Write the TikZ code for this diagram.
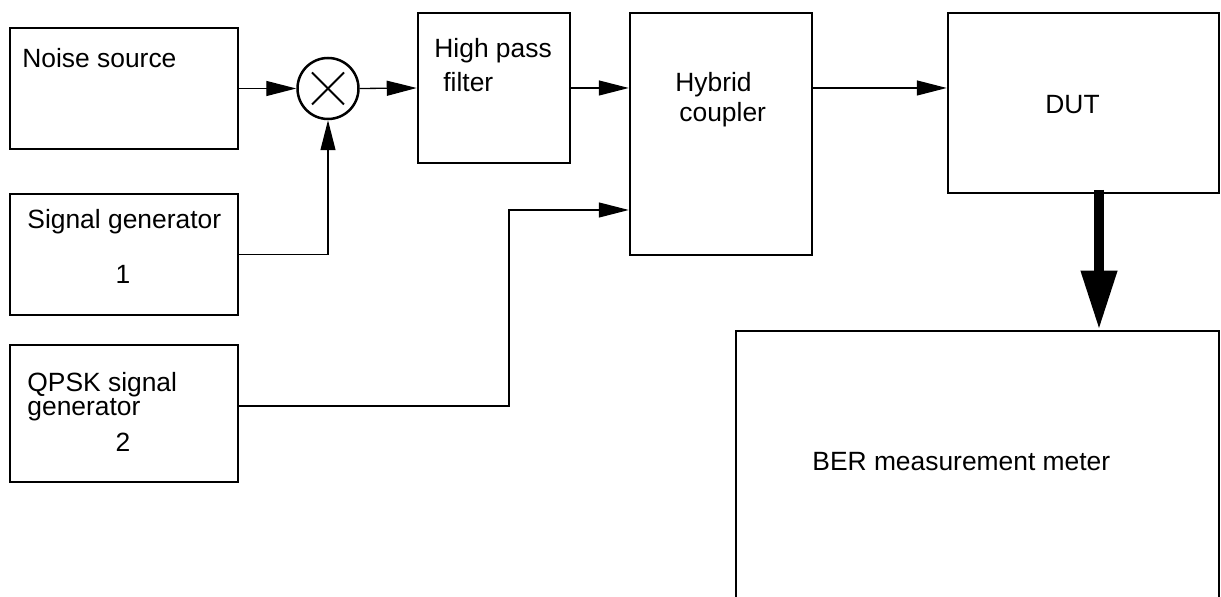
\documentclass[tikz,border=0pt]{standalone}
\usepackage{fontspec}
\setmainfont{Liberation Sans}
\usetikzlibrary{arrows.meta, positioning}
\tikzset{
  every picture/.style={font=\fontsize{13.2pt}{15pt}\selectfont},
  blk/.style={draw, line width=1.25pt, inner sep=0pt},
  mixer/.style={circle, draw, line width=1.25pt, minimum size=30.5pt, inner sep=0pt},
  txt/.style={anchor=base west, inner sep=0pt},
  sig/.style={-{Triangle[length=15pt, width=7.5pt]}, line width=0.65pt},
  bigarrow/.style={-{Triangle[length=29.5pt, width=17pt]}, line width=5pt},
}

\begin{document}
\begin{tikzpicture}[x=0.5pt, y=-0.5pt]
  \path[use as bounding box, clip] (0,0) rectangle (1221,597);

  % sources on the left
  \node[blk, minimum width=114pt, minimum height=60.5pt] (noise) at (124,88.5) {};
  \node[blk, minimum width=114pt, minimum height=60.5pt] (sig1) at (124,254.5) {};
  \node[blk, minimum width=114pt, minimum height=68.5pt] (qpsk) at (124,413.5) {};
  \node[mixer] (mix) at (328,88.5) {};
  \draw[line width=1pt] (mix.center) ++(-16,-16) -- ++(32,32);
  \draw[line width=1pt] (mix.center) ++(-16,16) -- ++(32,-32);

  % filter, coupler and device
  \node[blk, minimum width=76pt, minimum height=75pt] (hpf) at (494,88) {};
  \node[blk, minimum width=91pt, minimum height=121pt] (hybrid) at (721,134) {};
  \node[blk, minimum width=135.5pt, minimum height=90pt] (dut) at (1083.5,103) {};
  \node[blk, minimum width=241.5pt, minimum height=154.5pt] (ber) at (977.5,485.5) {};

  % labels
  \node[txt] (noisetxt) at (22,68) {Noise source};
  \node[txt] (sig1txt) at (27,229) {Signal generator};
  \node[anchor=base, inner sep=0pt] (sig1num) at (123,284) {1};
  \node[txt] (qpsktxt) at (27,392) {QPSK signal};
  \node[txt] (qpsktxtb) at (27,416) {generator};
  \node[anchor=base, inner sep=0pt] (qpsknum) at (123,452) {2};
  \node[txt] (hpftxt) at (434,58) {High pass};
  \node[txt] (hpftxtb) at (443,92) {filter};
  \node[txt] (hybtxt) at (675,92) {Hybrid};
  \node[txt] (hybtxtb) at (679,122) {coupler};
  \node[txt] (duttxt) at (1045,114) {DUT};
  \node[txt] (bertxt) at (812,471) {BER measurement meter};

  % connections
  \draw[sig] (noise.east) -- (mix.west);
  \draw[sig] (mix.east) -- (hpf.west);
  \draw[sig] (sig1.east) -| (mix.south);
  \draw[sig] (hpf.east) -- (hpf.east -| hybrid.west);
  \draw[sig] (hpf.east -| hybrid.east) -- (hpf.east -| dut.west);
  \coordinate (bend) at (509,210);
  \draw[sig] ([yshift=3.75pt]qpsk.east) -| (bend) -- (bend -| hybrid.west);
  \coordinate (tap) at (1099,190);
  \draw[bigarrow] (tap) -- (tap |- ber.north);
\end{tikzpicture}
\end{document}
